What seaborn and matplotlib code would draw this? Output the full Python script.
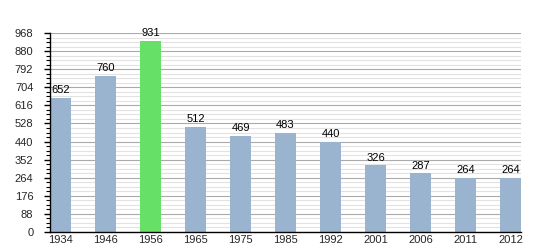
import matplotlib
matplotlib.use("Agg")
import matplotlib.pyplot as plt
from matplotlib.ticker import MultipleLocator
import seaborn as sns
import pandas as pd

years = ["1934", "1946", "1956", "1965", "1975", "1985", "1992", "2001", "2006", "2011", "2012"]
population = [652, 760, 931, 512, 469, 483, 440, 326, 287, 264, 264]
highlight_year = "1956"
yticks = [0, 88, 176, 264, 352, 440, 528, 616, 704, 792, 880, 968]

df = pd.DataFrame({"year": years, "pop": population})
palette = {y: ("#66e066" if y == highlight_year else "#9ab3cf") for y in years}

sns.set_style("white")
plt.rcParams["font.family"] = ["Liberation Sans", "DejaVu Sans"]

fig = plt.figure(figsize=(5.5, 2.5), dpi=100)
ax = fig.add_axes([50/550, 18/250, 471/550, 199/250])

sns.barplot(data=df, x="year", y="pop", hue="year", palette=palette, legend=False,
            width=0.47, ax=ax, zorder=3, saturation=1, linewidth=0)

ax.set_xlim(-0.235, len(years) - 1 + 0.235)
ax.set_ylim(0, 968)
ax.set_yticks(yticks)
ax.yaxis.set_minor_locator(MultipleLocator(22))
ax.grid(True, which="major", axis="y", color="#aaaaaa", linewidth=0.8, zorder=0)
ax.grid(True, which="minor", axis="y", color="#e2e2e2", linewidth=0.8, zorder=0)
ax.set_axisbelow(True)

for s in ["top", "right"]:
    ax.spines[s].set_visible(False)
for s in ["left", "bottom"]:
    ax.spines[s].set_color("black")
    ax.spines[s].set_linewidth(1)
    ax.spines[s].set_zorder(5)

ax.tick_params(axis="y", which="major", length=4, width=1, color="black", labelsize=8, pad=8, left=True, direction="out")
ax.tick_params(axis="y", which="minor", length=3, width=0.8, color="black", left=True, direction="out")
ax.tick_params(axis="x", length=0, labelsize=8, pad=2)
ax.set_xlabel("")
ax.set_ylabel("")

for i, v in enumerate(population):
    ax.text(i, v + 12, str(v), ha="center", va="bottom", fontsize=8, color="black")

fig.savefig("out.png", dpi=100, facecolor="white")
